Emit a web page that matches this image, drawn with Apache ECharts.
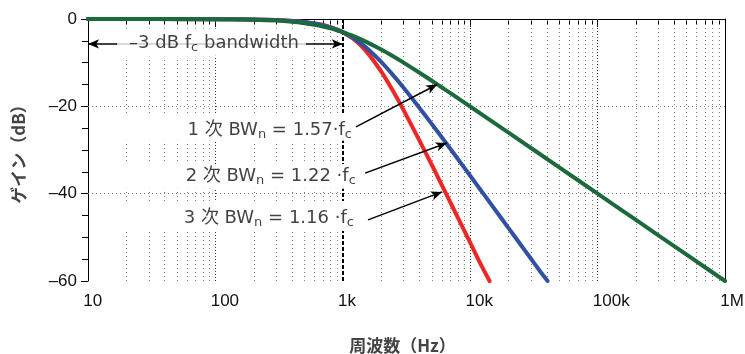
<!DOCTYPE html>
<html>
<head>
<meta charset="utf-8">
<script src="https://cdn.jsdelivr.net/npm/echarts@6/dist/echarts.min.js"></script>
<style>
  html, body { margin: 0; padding: 0; background: #fff; }
  #chart { width: 745px; height: 354px; }
</style>
</head>
<body>
<div id="chart"></div>
<script>
// Gain (dB) of 1st, 2nd and 3rd order low-pass filters, -3 dB point at 1 kHz
const freq1 = [10, 100, 200, 300, 400, 500, 600, 700, 800, 900, 1000, 1200, 1500, 2000, 2500, 3000, 4000, 5000, 6000, 7000, 8000, 10000, 20000, 50000, 100000, 200000, 500000, 1000000];
const gain1 = [0, -0.04, -0.17, -0.37, -0.64, -0.97, -1.34, -1.73, -2.15, -2.58, -3.01, -3.87, -5.12, -6.99, -8.6, -10.0, -12.3, -14.15, -15.68, -16.99, -18.13, -20.04, -26.03, -33.98, -40.0, -46.02, -53.98, -60.0];

const freq2 = [10, 100, 200, 300, 400, 500, 600, 700, 800, 900, 1000, 1200, 1500, 2000, 2500, 3000, 4000, 5000, 6000, 7000, 8000, 10000, 12000, 15000, 20000, 25000, 30000, 35000, 40500];
const gain2 = [0, -0.03, -0.11, -0.25, -0.45, -0.71, -1.05, -1.44, -1.91, -2.43, -3.01, -4.29, -6.36, -9.82, -12.96, -15.74, -20.36, -24.07, -27.15, -29.77, -32.06, -35.89, -39.04, -42.9, -47.88, -51.75, -54.91, -57.59, -60.0];

const freq3 = [10, 100, 200, 300, 400, 500, 600, 700, 800, 900, 1000, 1200, 1500, 2000, 2500, 3000, 4000, 5000, 6000, 7000, 8000, 10000, 12000, 14200];
const gain3 = [0, -0.03, -0.11, -0.24, -0.44, -0.69, -1.01, -1.39, -1.85, -2.39, -3.01, -4.48, -7.12, -12.0, -16.68, -20.86, -27.85, -33.44, -38.08, -42.03, -45.47, -51.23, -55.96, -60.0];

// Axis ticks and grid positions
const xTickValues = [10, 100, 1000, 10000, 100000, 1000000];
const xTickLabels = ['10', '100', '1k', '10k', '100k', '1M'];
const yTickValues = [0, -20, -40, -60];
const yTickLabels = ['0', '–20', '–40', '–60'];
const minorFreqs = [
  20, 30, 40, 50, 60, 70, 80, 90,
  200, 300, 400, 500, 600, 700, 800, 900,
  2000, 3000, 4000, 5000, 6000, 7000, 8000, 9000,
  20000, 30000, 40000, 50000, 60000, 70000, 80000, 90000,
  200000, 300000, 400000, 500000, 600000, 700000, 800000, 900000
];
const decadeFreqs = [100, 10000, 100000];
const cornerFreq = 1000;
const gridLevels = [-20, -40];

// Annotation texts
const orderNotes = [
  '1 次 BW{s|n} = 1.57·f{s|c}',
  '2 次 BW{s|n} = 1.22 ·f{s|c}',
  '3 次 BW{s|n} = 1.16 ·f{s|c}'
];
const bandwidthNote = '–3 dB f{s|c} bandwidth';

// Annotation placement in data coordinates [Hz, dB]
const layout = {
  noteAnchors: [[1180, -25.4], [1265, -35.95], [1222, -45.57]],
  arrowStarts: [[1269, -24.7], [1494, -35.3], [1577, -46.0]],
  arrowTips: [[5500, -15.0], [6550, -28.4], [6000, -39.6]],
  bandwidthAnchor: [93.2, -5.5],
  bandwidthLine: [[10, -5.7], [1000, -5.7]],
  boxes: [
    [[10.3, -2.75], [553, -8.0]],
    [[17.8, -21.5], [1300, -27.9]],
    [[17.8, -33.2], [1300, -38.9]],
    [[17.8, -41.7], [1300, -48.55]]
  ]
};

const zip = (xs, ys) => xs.map((x, i) => [x, ys[i]]);

const axisFont = 'Liberation Sans, Arial, Helvetica, sans-serif';
const noteFont = "'DejaVu Sans', 'Noto Sans CJK JP', sans-serif";
const cjkFont = "'Noto Sans CJK JP', 'Noto Sans CJK SC', sans-serif";

// Shift each x label so that its leading "1" sits centred on the tick
const ctx = document.createElement('canvas').getContext('2d');
ctx.font = '17px "Liberation Sans"';
const xRich = {};
xTickLabels.forEach((t, i) => {
  xRich['p' + i] = { width: Math.max(1, ctx.measureText(t).width - ctx.measureText('1').width), fontSize: 17, fontFamily: axisFont };
});

const minorStyle = { color: '#808080', width: 1, type: [1, 3] };
const decadeStyle = { color: '#333', width: 1, type: [1, 2] };
const cornerStyle = { color: '#000', width: 2, type: [4, 2] };

const gridLines = []
  .concat(minorFreqs.map(f => ({ xAxis: f, lineStyle: minorStyle })))
  .concat(decadeFreqs.map(f => ({ xAxis: f, lineStyle: decadeStyle })))
  .concat(gridLevels.map(v => ({ yAxis: v, lineStyle: minorStyle })))
  .concat([{ xAxis: cornerFreq, lineStyle: cornerStyle }]);

const subStyle = { fontSize: 13, lineHeight: 13, verticalAlign: 'bottom', fontFamily: noteFont, color: '#111' };

const chart = echarts.init(document.getElementById('chart'), null, { renderer: 'canvas' });

chart.setOption({
  animation: false,
  backgroundColor: '#fff',
  grid: { left: 88, right: 20, top: 19, bottom: 73, containLabel: false, outerBoundsMode: 'none' },
  xAxis: [
    {
      type: 'log', logBase: 10, min: 10, max: 1000000,
      position: 'bottom',
      name: '周波数（Hz）', nameLocation: 'middle', nameGap: 56,
      nameTextStyle: { fontFamily: cjkFont, fontSize: 17, fontWeight: 'bold', color: '#444', padding: [0, 8, 0, 0] },
      axisLine: { lineStyle: { color: '#000', width: 1 } },
      axisTick: { show: true, length: 8, inside: false, lineStyle: { color: '#000' } },
      axisLabel: {
        margin: 12, fontFamily: axisFont, fontSize: 17, color: '#111',
        showMinLabel: true, showMaxLabel: true, hideOverlap: false,
        rich: xRich,
        formatter: v => {
          const i = xTickValues.findIndex(t => Math.abs(Math.log10(t) - Math.log10(v)) < 1e-6);
          return i < 0 ? '' : '{p' + i + '| }' + xTickLabels[i];
        }
      },
      splitLine: { show: false }
    },
    {
      type: 'log', logBase: 10, min: 10, max: 1000000,
      position: 'bottom',
      axisLine: { show: false },
      axisLabel: { show: false },
      axisTick: { show: true, length: 5, inside: false, customValues: minorFreqs, lineStyle: { color: '#000' } },
      splitLine: { show: false }
    },
    {
      type: 'log', logBase: 10, min: 10, max: 1000000,
      position: 'top',
      axisLine: { show: true, lineStyle: { color: '#000', width: 1 } },
      axisLabel: { show: false },
      axisTick: { show: false },
      splitLine: { show: false }
    }
  ],
  yAxis: [
    {
      type: 'value', min: -60, max: 0, interval: 20,
      position: 'left',
      name: 'ゲイン（dB）', nameLocation: 'middle', nameGap: 61, nameRotate: 90,
      nameTextStyle: { fontFamily: cjkFont, fontSize: 17, fontWeight: 'bold', color: '#444' },
      axisLine: { show: true, lineStyle: { color: '#000', width: 1 } },
      axisTick: { show: true, length: 7, inside: false, lineStyle: { color: '#000' } },
      minorTick: { show: true, splitNumber: 4, length: 6, lineStyle: { color: '#000' } },
      axisLabel: {
        margin: 11, fontFamily: axisFont, fontSize: 17, color: '#111',
        formatter: v => {
          const i = yTickValues.indexOf(v);
          return i < 0 ? '' : yTickLabels[i];
        }
      },
      splitLine: { show: false }
    },
    {
      type: 'value', min: -60, max: 0,
      position: 'right',
      axisLine: { show: true, lineStyle: { color: '#000', width: 1 } },
      axisTick: { show: false },
      axisLabel: { show: false },
      splitLine: { show: false }
    }
  ],
  series: [
    {
      name: 'grid',
      type: 'line',
      data: [],
      z: 1,
      silent: true,
      markLine: {
        z: 1,
        silent: true,
        symbol: 'none',
        animation: false,
        label: { show: false },
        emphasis: { disabled: true },
        data: gridLines
      }
    },
    {
      name: 'boxes',
      type: 'line',
      data: [],
      z: 2,
      silent: true,
      markArea: {
        z: 2,
        silent: true,
        itemStyle: { color: '#fff', opacity: 1, borderWidth: 0 },
        label: { show: false },
        emphasis: { disabled: true },
        data: layout.boxes.map(b => [{ coord: b[0] }, { coord: b[1] }])
      }
    },
    {
      name: '3次',
      type: 'line',
      z: 3,
      data: zip(freq3, gain3),
      showSymbol: false,
      smooth: 0.2,
      lineStyle: { color: '#ee2626', width: 4, cap: 'round', join: 'round' }
    },
    {
      name: '2次',
      type: 'line',
      z: 3,
      data: zip(freq2, gain2),
      showSymbol: false,
      smooth: 0.2,
      lineStyle: { color: '#3150a2', width: 4, cap: 'round', join: 'round' }
    },
    {
      name: '1次',
      type: 'line',
      z: 3,
      data: zip(freq1, gain1),
      showSymbol: false,
      smooth: 0.2,
      lineStyle: { color: '#1c6a3c', width: 4, cap: 'round', join: 'round' }
    },
    {
      name: 'notes',
      type: 'scatter',
      z: 5,
      silent: true,
      symbolSize: 0,
      data: orderNotes.map((t, i) => ({
        value: layout.noteAnchors[i],
        label: { formatter: t }
      })).concat([{
        value: layout.bandwidthAnchor,
        label: {
          formatter: bandwidthNote,
          position: 'inside',
          backgroundColor: '#fff',
          padding: [3, 7, 3, 12]
        }
      }]),
      label: {
        show: true,
        position: 'left',
        distance: 0,
        fontFamily: noteFont,
        fontSize: 18,
        lineHeight: 23,
        color: '#111',
        rich: { s: subStyle }
      },
      markLine: {
        z: 4,
        silent: true,
        symbol: ['none', 'arrow'],
        symbolSize: [7, 11],
        label: { show: false },
        emphasis: { disabled: true },
        lineStyle: { color: '#000', width: 1.5, type: 'solid' },
        data: layout.arrowStarts.map((s, i) => [{ coord: s }, { coord: layout.arrowTips[i] }])
          .concat([[
            { coord: layout.bandwidthLine[0], symbol: 'arrow' },
            { coord: layout.bandwidthLine[1], symbol: 'arrow' }
          ]])
      }
    }
  ]
});
</script>
</body>
</html>
